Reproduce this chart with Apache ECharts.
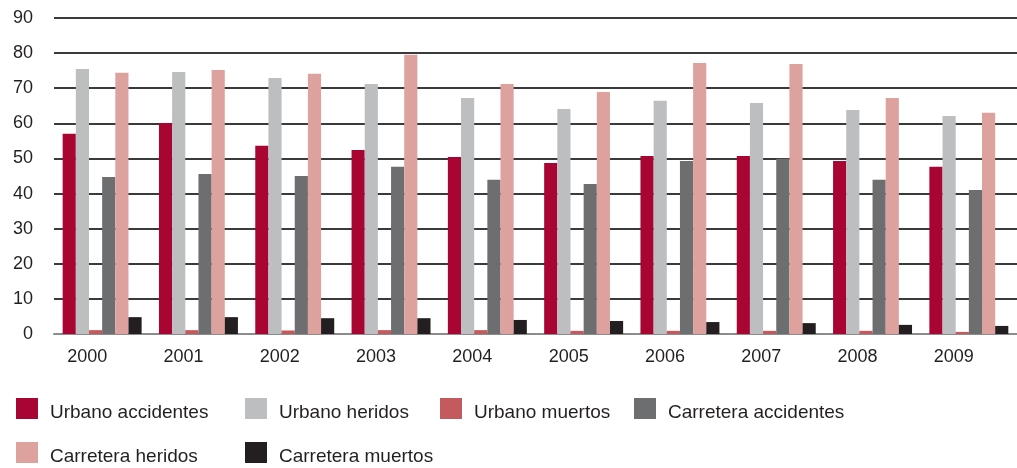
<!DOCTYPE html>
<html>
<head>
<meta charset="utf-8">
<script src="https://cdn.jsdelivr.net/npm/echarts@6/dist/echarts.min.js"></script>
<style>
	html, body { margin: 0; padding: 0; background: #fff; }
	#main { width: 1017px; height: 468px; }
</style>
</head>
<body>
<div id="main"></div>
<script>
	// años
	var years = ['2000', '2001', '2002', '2003', '2004', '2005', '2006', '2007', '2008', '2009'];

	// valores
	var urbanoAccidentes = [57.0, 60.1, 53.6, 52.4, 50.4, 48.7, 50.7, 50.7, 49.3, 47.6];
	var urbanoHeridos = [75.5, 74.6, 72.9, 71.2, 67.2, 64.1, 66.4, 65.8, 63.8, 62.1];
	var urbanoMuertos = [1.1, 1.1, 1.0, 1.1, 1.1, 0.9, 0.9, 0.9, 0.9, 0.6];
	var carreteraAccidentes = [44.7, 45.6, 45.0, 47.6, 43.9, 42.7, 49.3, 49.9, 43.9, 41.0];
	var carreteraHeridos = [74.4, 75.2, 74.1, 79.5, 71.2, 68.9, 77.2, 76.9, 67.2, 63.0];
	var carreteraMuertos = [4.8, 4.8, 4.5, 4.5, 4.0, 3.7, 3.4, 3.1, 2.6, 2.3];

	var seriesNames = ['Urbano accidentes', 'Urbano heridos', 'Urbano muertos', 'Carretera accidentes', 'Carretera heridos', 'Carretera muertos'];
	var seriesData = [urbanoAccidentes, urbanoHeridos, urbanoMuertos, carreteraAccidentes, carreteraHeridos, carreteraMuertos];
	var colors = ['#A80532', '#BDBEC0', '#C25A5E', '#6D6E70', '#DDA29E', '#231F20'];

	var font = "'Liberation Sans', Arial, sans-serif";

	// una leyenda por elemento, para colocarlas como en la imagen
	var legendPos = [
		[16, 398], [245, 398], [440, 398], [634, 398],
		[16, 442], [245, 442]
	];

	function makeLegend(name, pos) {
		return {
			left: pos[0],
			top: pos[1],
			padding: 0,
			itemWidth: 22,
			itemHeight: 21,
			icon: 'rect',
			selectedMode: false,
			data: [name],
			formatter: '{t|{name}}',
			textStyle: {
				padding: [0, 0, 0, 7],
				rich: {
					t: {
						color: '#231F20',
						fontSize: 19,
						fontFamily: font,
						padding: [9, 0, 0, 0]
					}
				}
			}
		}
	}

	var myChart = echarts.init(document.getElementById('main'), null, { renderer: 'canvas' });

	var option = {
		animation: false,
		backgroundColor: '#fff',
		color: colors,
		grid: {
			left: 54,
			right: 0,
			top: 18,
			bottom: 134,
			containLabel: false
		},
		legend: seriesNames.map(function (name, i) {
			return makeLegend(name, legendPos[i])
		}),
		xAxis: {
			type: 'category',
			data: years,
			axisLine: {
				lineStyle: { color: '#8C8C8C', width: 2 }
			},
			axisTick: { show: false },
			axisLabel: {
				color: '#231F20',
				fontSize: 18,
				fontFamily: font,
				margin: 14,
				padding: [0, 30, 0, 0]
			}
		},
		yAxis: {
			type: 'value',
			min: 0,
			max: 90,
			interval: 10,
			axisLine: { show: false },
			axisTick: { show: false },
			axisLabel: {
				color: '#231F20',
				fontSize: 18,
				fontFamily: font,
				margin: 21
			},
			splitLine: {
				lineStyle: { color: '#3A3A3A', width: 2 }
			}
		},
		series: seriesNames.map(function (name, i) {
			return {
				name: name,
				type: 'bar',
				data: seriesData[i],
				barGap: '0%',
				barCategoryGap: '18%'
			}
		})
	};

	myChart.setOption(option);
</script>
</body>
</html>
